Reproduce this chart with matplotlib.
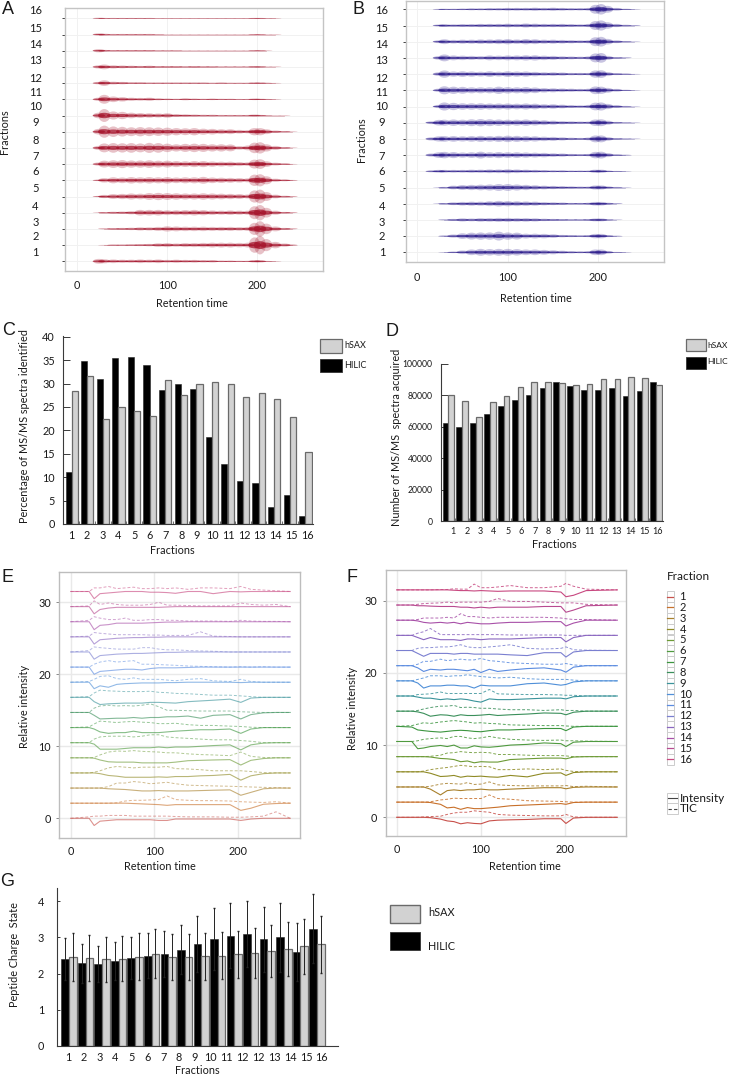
import numpy as np
import matplotlib
matplotlib.use('Agg')
import matplotlib.pyplot as plt
from matplotlib.lines import Line2D
from matplotlib.patches import Ellipse, Rectangle

plt.rcParams['font.family'] = ['Lato', 'DejaVu Sans']
plt.rcParams['font.size'] = 7.8

W, H = 729, 1074

fractions = list(range(1, 17))
fraction_labels = [str(f) for f in fractions]
# panel G really has 12 printed twice
g_labels = ['1', '2', '3', '4', '5', '6', '7', '8', '9', '10', '11', '12', '12', '13', '14', '15', '16']

# half widths of the traces in A and B, hundredths of a row, row 1 first
a_times = [24, 30, 40, 50, 60, 70, 80, 90, 100, 110, 120, 130, 140, 150, 160, 170, 180, 190, 197, 203, 210, 220, 230, 238]
a_widths = [
    [12, 10, 9, 8, 8, 9, 8, 9, 7, 8, 7, 7, 6, 6, 4, 4, 3, 3, 6, 6, 2, 1, 0, 0],
    [0, 1, 3, 3, 4, 5, 6, 9, 10, 8, 10, 10, 11, 12, 12, 12, 11, 12, 38, 46, 30, 16, 8, 3],
    [0, 2, 4, 5, 6, 8, 8, 10, 13, 12, 11, 11, 11, 10, 10, 10, 9, 10, 30, 38, 26, 12, 5, 2],
    [1, 3, 5, 6, 8, 14, 14, 14, 12, 12, 13, 14, 13, 11, 10, 11, 10, 10, 32, 38, 24, 10, 4, 2],
    [3, 8, 12, 13, 15, 14, 17, 18, 17, 16, 15, 15, 16, 15, 14, 13, 12, 10, 30, 34, 22, 9, 4, 2],
    [4, 11, 15, 14, 16, 15, 16, 15, 16, 14, 15, 15, 17, 14, 13, 12, 11, 10, 28, 30, 20, 8, 5, 2],
    [8, 17, 19, 20, 18, 18, 19, 17, 17, 15, 14, 15, 15, 13, 12, 12, 10, 9, 22, 24, 14, 7, 4, 1],
    [10, 22, 24, 23, 24, 22, 25, 24, 21, 18, 20, 21, 20, 18, 18, 17, 9, 12, 26, 28, 18, 10, 4, 1],
    [14, 30, 26, 24, 22, 23, 22, 21, 20, 18, 17, 18, 15, 14, 12, 12, 9, 8, 18, 18, 12, 6, 3, 1],
    [14, 32, 20, 18, 14, 12, 11, 10, 11, 7, 6, 5, 4, 4, 3, 3, 3, 3, 5, 3, 2, 1, 1, 0],
    [8, 22, 14, 11, 8, 7, 8, 5, 4, 3, 5, 4, 3, 4, 3, 3, 2, 2, 4, 3, 2, 1, 0, 0],
    [6, 14, 7, 6, 4, 4, 3, 3, 3, 3, 3, 3, 3, 2, 3, 2, 2, 2, 3, 3, 2, 1, 0, 0],
    [8, 12, 8, 7, 6, 5, 6, 4, 4, 4, 3, 4, 3, 3, 2, 2, 2, 2, 3, 3, 1, 1, 0, 0],
    [8, 4, 3, 3, 3, 3, 3, 2, 2, 2, 1, 1, 1, 1, 1, 1, 1, 1, 2, 2, 1, 0, 0, 0],
    [6, 4, 3, 3, 3, 3, 3, 2, 1, 1, 1, 1, 1, 1, 1, 1, 1, 1, 2, 2, 1, 1, 0, 0],
    [3, 2, 2, 2, 2, 2, 2, 1, 1, 1, 1, 1, 1, 1, 1, 1, 1, 1, 2, 2, 1, 1, 0, 0],
]
b_times = [16, 24, 30, 40, 50, 60, 70, 80, 90, 100, 110, 120, 130, 140, 150, 160, 170, 180, 190, 197, 203, 210, 220, 230, 240]
b_widths = [
    [0, 0, 1, 4, 9, 14, 17, 16, 17, 17, 16, 14, 14, 12, 10, 8, 6, 5, 6, 14, 14, 7, 2, 1, 0],
    [0, 0, 3, 8, 14, 17, 18, 18, 22, 18, 17, 12, 12, 11, 9, 6, 5, 4, 5, 11, 11, 5, 2, 0, 0],
    [0, 0, 2, 5, 8, 7, 9, 9, 10, 10, 9, 9, 8, 6, 5, 4, 3, 3, 4, 7, 7, 3, 1, 0, 0],
    [0, 1, 3, 7, 9, 10, 10, 12, 14, 13, 12, 11, 10, 8, 7, 6, 4, 4, 5, 9, 9, 5, 2, 0, 0],
    [0, 1, 3, 9, 12, 13, 14, 15, 17, 17, 15, 13, 11, 9, 8, 7, 6, 5, 5, 10, 10, 6, 3, 1, 0],
    [5, 7, 7, 7, 7, 8, 8, 9, 9, 10, 9, 8, 7, 6, 5, 5, 4, 4, 4, 8, 8, 4, 2, 1, 0],
    [8, 14, 16, 15, 13, 14, 17, 14, 15, 14, 14, 13, 12, 11, 9, 8, 6, 5, 6, 16, 17, 10, 4, 2, 0],
    [8, 13, 14, 14, 13, 14, 15, 14, 15, 16, 15, 14, 13, 11, 10, 8, 6, 5, 7, 17, 17, 9, 4, 2, 1],
    [7, 14, 15, 16, 15, 17, 18, 17, 16, 15, 15, 16, 14, 12, 10, 8, 7, 6, 6, 16, 17, 10, 4, 2, 1],
    [0, 8, 20, 18, 16, 16, 16, 15, 15, 15, 14, 15, 14, 11, 11, 9, 7, 6, 8, 19, 20, 13, 7, 3, 1],
    [0, 8, 20, 18, 17, 15, 15, 15, 18, 16, 15, 16, 14, 11, 10, 9, 8, 7, 8, 19, 18, 12, 7, 3, 1],
    [0, 9, 18, 13, 14, 13, 12, 14, 12, 14, 13, 13, 11, 9, 9, 8, 6, 6, 6, 18, 19, 10, 5, 3, 1],
    [0, 9, 17, 12, 11, 10, 9, 12, 11, 12, 12, 13, 13, 11, 10, 8, 7, 6, 8, 22, 24, 10, 4, 2, 0],
    [0, 7, 12, 9, 10, 10, 11, 11, 12, 13, 11, 13, 12, 10, 10, 9, 8, 7, 8, 22, 24, 14, 7, 3, 1],
    [0, 5, 7, 6, 7, 7, 8, 8, 8, 9, 8, 10, 9, 8, 8, 8, 7, 6, 8, 22, 25, 16, 8, 4, 2],
    [0, 2, 3, 3, 4, 5, 5, 6, 6, 7, 7, 7, 8, 7, 8, 7, 6, 6, 7, 22, 26, 17, 7, 3, 1],
]

c_hilic = [11.1, 34.8, 30.9, 35.4, 35.7, 33.9, 28.7, 29.8, 28.8, 18.5, 12.9, 9.1, 8.8, 3.7, 6.3, 1.7]
c_hsax = [28.3, 31.7, 22.5, 25.0, 24.2, 23.0, 30.8, 27.6, 30.0, 30.4, 29.9, 27.2, 27.9, 26.7, 22.9, 15.3]

d_hilic = [62500, 60000, 62200, 68000, 73000, 76800, 80000, 84500, 88500, 86000, 83500, 83500, 84500, 79500, 82500, 88500]
d_hsax = [80000, 76500, 66000, 76000, 79500, 85000, 88500, 88200, 87500, 86500, 87000, 90000, 90200, 91500, 91000, 86200]

# E and F: offsets from each fraction's baseline, fraction 1 first
e_times = [0, 22, 28, 35, 45, 55, 65, 75, 85, 95, 105, 115, 125, 140, 155, 170, 190, 203, 215, 230, 245, 262]
e_intensity = [
    [0, 0, -1, -.4, -.3, -.2, -.2, -.2, -.2, -.2, -.3, -.3, -.1, -.1, -.1, -.1, -.1, -.3, -.1, 0, 0, 0],
    [0, 0, 0, 0, 0, 0, 0, -.05, -.1, -.15, -.2, -.3, -.2, -.2, -.2, -.2, -.2, -1, -.7, -.15, -.05, 0],
    [0, 0, 0, 0, -.1, -.15, -.2, -.3, -.4, -.4, -.35, -.4, -.4, -.4, -.35, -.3, -.25, -1, -.6, -.1, 0, 0],
    [0, 0, 0, -.1, -.35, -.45, -.6, -.6, -.6, -.6, -.55, -.6, -.5, -.5, -.4, -.35, -.2, -1, -.4, -.1, 0, 0],
    [0, 0, -.05, -.3, -.55, -.6, -.6, -.6, -.7, -.7, -.7, -.7, -.6, -.4, -.35, -.3, -.25, -1, -.35, -.1, 0, 0],
    [0, 0, -.2, -.9, -.9, -.9, -.8, -.7, -.7, -.7, -.6, -.7, -.6, -.6, -.5, -.4, -.3, -1, -.3, -.05, 0, 0],
    [0, 0, -.2, -.6, -.8, -.7, -.7, -.5, -.7, -.7, -.7, -.6, -.5, -.4, -.3, -.3, -.2, -.8, -.2, 0, 0, 0],
    [0, 0, -.4, -.9, -.85, -.8, -.8, -.7, -.8, -.7, -.7, -.6, -.6, -.5, -.8, -.4, -.3, -.9, -.3, -.05, 0, 0],
    [0, 0, -.6, -1, -.9, -.85, -.8, -.8, -.8, -.7, -.7, -.75, -.8, -.6, -.5, -.4, -.25, -.7, -.1, 0, 0, 0],
    [0, 0, -.9, -.5, -.7, -.3, -.2, -.15, -.1, -.1, -.1, -.05, -.05, 0, 0, 0, 0, -.05, 0, 0, 0, 0],
    [0, 0, -1, -.6, -.5, -.4, -.3, -.3, -.4, -.2, -.1, -.1, -.1, -.05, 0, 0, 0, 0, 0, 0, 0, 0],
    [0, 0, -1, -.5, -.4, -.3, -.25, -.2, -.2, -.15, -.1, -.05, -.05, 0, 0, 0, 0, 0, 0, 0, 0, 0],
    [0, 0, -1, -.4, -.3, -.2, -.15, -.1, -.1, -.05, -.05, 0, 0, 0, 0, 0, 0, 0, 0, 0, 0, 0],
    [0, 0, -1.1, -.5, -.4, -.2, -.2, -.2, -.2, -.15, -.1, -.05, -.05, 0, 0, 0, 0, 0, 0, 0, 0, 0],
    [0, 0, -1, -.4, -.2, -.1, -.1, -.1, -.1, -.1, -.1, -.05, 0, 0, 0, 0, 0, 0, 0, 0, 0, 0],
    [0, 0, -1, -.3, -.2, -.1, 0, 0, 0, -.1, -.1, -.15, -.25, 0, 0, -.3, 0, -.05, 0, 0, 0, 0],
]
e_tic = [
    [0, .2, .3, .3, .4, .4, .4, .3, .3, .3, .3, .3, .25, .2, .2, .2, .15, .15, .2, .3, .9, 0],
    [0, 0, 0, 0, 0, .05, .3, .4, .4, .45, .5, 1, .5, .4, .35, .35, .3, .2, .15, .1, .2, 0],
    [0, 0, 0, 0, .2, .7, .7, .9, .8, .6, .7, .8, .6, .4, .35, .3, .25, .2, .15, .1, .05, 0],
    [0, 0, .1, .3, .7, .9, .8, .7, .8, .8, .8, .9, .6, .55, .45, .3, .3, .3, .2, .05, 0, 0],
    [0, 0, .05, .4, .8, .95, .9, 1, .9, .85, .8, .7, .7, .55, .45, .4, .3, .8, .2, .05, 0, 0],
    [0, 0, .5, .8, .9, .9, .9, .8, .9, 1.1, 1.1, .8, .7, .6, .5, .4, .4, .3, .2, 0, 0, 0],
    [0, .1, .5, .9, .8, .7, .8, .85, .75, .7, .55, .55, .6, .4, .3, .3, .2, .15, .05, 0, 0, 0],
    [0, 0, .6, .9, 1, .9, .95, .9, 1, 1.2, .8, .3, .3, .25, .2, .2, .2, .1, .05, 0, 0, 0],
    [0, .1, .6, 1, .9, .85, .8, .8, .8, .85, .7, .65, .55, .5, .4, .3, .3, .2, .1, 0, 0, 0],
    [0, .1, .4, .8, .9, .5, .4, .6, .4, .4, .4, .3, .2, .4, .5, .2, .1, .4, .1, 0, 0, 0],
    [0, 0, .4, .7, .9, .7, .8, .9, .4, .4, .35, .3, .25, .15, .1, .05, 0, .05, 0, .05, 0, 0],
    [0, .2, .7, .6, .5, .4, .4, .4, .6, .6, .4, .3, .3, .2, .15, .1, 0, 0, 0, 0, 0, 0],
    [0, .1, .6, .5, .4, .3, .3, .3, .3, .25, .25, .2, .2, .2, .7, .1, .05, 0, 0, 0, 0, 0],
    [0, .2, .7, .5, .3, .3, .5, .2, .2, .3, .3, .2, .2, .1, .1, .1, .05, .2, .1, .05, .05, 0],
    [0, .1, .8, .3, .5, .3, .2, .2, .2, .3, .6, .2, .2, .15, .1, .1, .1, .5, .3, .2, .3, 0],
    [0, 0, .5, .5, .7, .4, .5, .6, .4, .4, .5, .4, .5, .3, .5, .5, .4, .7, .3, .2, .1, 0],
]
f_times = [0, 18, 25, 32, 40, 52, 60, 68, 76, 84, 92, 100, 110, 120, 135, 155, 175, 195, 201, 210, 225, 262]
f_intensity = [
    [0, 0, 0, 0, -.05, -.25, -.5, -.6, -.9, -.75, -.85, -.9, -.5, -.4, -.35, -.3, -.2, -.2, -.85, -.1, 0, 0],
    [0, 0, 0, 0, -.05, -.3, -.8, -.7, -1, -.75, -.9, -.9, -.8, -.7, -.5, -.4, -.3, -.2, -.3, -.05, 0, 0],
    [0, 0, 0, 0, -.3, -1.1, -.5, -.4, -.5, -.4, -.4, -.3, -.4, -.4, -.3, -.2, -.1, -.1, -.25, -.05, 0, 0],
    [0, 0, 0, 0, -.2, -.65, -.6, -.5, -.75, -.6, -.65, -.6, -.7, -.75, -.5, -.7, -.2, -.15, -.5, -.1, 0, 0],
    [0, 0, 0, 0, -.05, -.25, -.3, -.4, -.7, -.6, -.85, -.7, -.75, -.75, -.4, -.3, -.2, -.2, -.3, -.05, 0, 0],
    [0, 0, -1, -.9, -.7, -.55, -.7, -.5, -.9, -.9, -.6, -.75, -.8, -.7, -.5, -.4, -.2, -.3, -.7, -.1, 0, 0],
    [0, -.1, -.5, -.6, -.7, -.8, -.7, -.6, -.55, -.6, -.7, -.75, -.6, -.5, -.5, -.4, -.3, -.3, -.6, -.1, 0, 0],
    [0, 0, -.1, -.3, -.7, -.5, -.55, -.7, -.5, -.6, -.6, -.55, -.45, -.6, -.5, -.4, -.25, -.3, -.5, -.15, 0, 0],
    [0, 0, -.15, -.3, -.3, -.5, -.4, -.5, -.4, -.5, -.7, -.85, -.4, -.5, -.5, -.4, -.3, -.3, -.4, -.1, 0, 0],
    [0, 0, -.3, -1, -.7, -.7, -.6, -.6, -.7, -.7, -1, -.6, -.7, -.7, -.7, -.4, -.3, -.6, -.5, -.15, 0, 0],
    [0, 0, -.3, -.8, -.5, -.6, -.5, -.5, -.6, -.7, -.5, -.95, -.5, -.8, -.6, -.4, -.3, -.6, -.9, -.2, 0, 0],
    [0, 0, -.4, -.8, -.4, -.4, -.4, -.5, -.4, -.4, -.5, -.5, -.5, -.5, -.6, -.7, -.3, -.3, -.9, -.2, 0, 0],
    [0, 0, -.3, -.6, -.3, -.6, -.6, -.6, -.7, -.5, -.5, -.6, -.5, -.5, -.5, -.4, -.3, -.3, -.9, -.3, 0, 0],
    [0, 0, -.1, -.3, -.4, -.3, -.4, -.3, -.5, -.3, -.4, -.5, -.5, -.4, -.3, -.3, -.2, -.2, -.8, -.4, 0, 0],
    [0, 0, -.1, -.1, -.15, -.2, -.2, -.2, -.3, -.3, -.4, -.3, -.4, -.3, -.3, -.3, -.2, -.2, -1, -.7, -.1, 0],
    [0, 0, 0, 0, 0, 0, 0, -.05, -.1, -.1, -.15, -.1, -.15, -.2, -.15, -.15, -.15, -.3, -.95, -.75, -.1, 0],
]
f_tic = [
    [0, 0, 0, .05, .1, .15, .4, .6, .7, .7, .9, .8, .7, .4, .3, .25, .2, .2, .4, .05, 0, 0],
    [0, 0, 0, 0, .05, .3, .4, .55, .5, .5, .5, .5, 1, .5, .4, .2, .15, .1, .05, 0, 0, 0],
    [0, 0, 0, 0, .1, .4, .5, .45, .4, .6, .35, .4, .7, .3, .2, .15, .15, .15, .2, .05, .1, 0],
    [0, 0, 0, .1, .3, .5, .6, .75, .9, .8, .7, .75, .7, .3, .3, .4, .3, .4, .2, .05, 0, 0],
    [0, 0, 0, 0, .05, .2, .5, .55, .7, .6, .55, .6, .55, .3, .3, .2, .15, .15, .1, 0, 0, 0],
    [0, 0, .1, .3, .4, .5, .4, .7, .7, .5, .4, .5, .7, .5, .3, .2, .15, .2, .1, .1, .05, 0],
    [0, .1, .3, .5, .4, .6, .7, .8, .7, .6, .45, .5, .4, .35, .2, .15, .1, .1, .05, 0, 0, 0],
    [0, 0, .1, .3, .5, .7, .7, .8, .5, .55, .5, .4, .4, .3, .2, .2, .1, .2, .1, .1, 0, 0],
    [0, 0, .2, .25, .3, .55, .35, .35, .35, .35, .35, .35, .9, .3, .25, .2, .2, .15, .1, .1, 0, 0],
    [0, 0, .2, .4, .7, .7, .6, .7, .7, .85, .7, .6, .5, .4, .5, .3, .2, .2, .2, .1, 0, 0],
    [0, 0, .2, .6, .6, .9, .7, .8, .9, .8, .8, 1, .7, .6, .4, .3, .2, .2, .3, .1, 0, 0],
    [0, 0, .3, .4, .4, .5, .5, .6, .8, .5, .4, .4, .5, .6, .8, .3, .2, .3, .5, .1, .05, 0],
    [0, 0, .3, .5, .95, .1, .1, .1, .1, .1, .1, .1, .1, .1, .05, .05, .05, .05, 0, 0, 0, 0],
    [0, 0, .1, .3, .3, .3, .4, .3, .9, .5, .5, .4, .3, .4, .4, .4, .4, .3, .2, .1, .1, 0],
    [0, 0, .1, .2, .25, .3, .4, .3, .4, .4, .4, .4, .5, .9, .5, .5, .4, .3, .3, .3, .1, 0],
    [0, 0, 0, 0, 0, .05, .05, .15, .1, .1, .8, .3, .3, .4, .6, .3, .3, .5, .9, .5, .1, 0],
]
fraction_colors = ['#c8504a', '#c8702a', '#a8802c', '#8f8a25', '#6c9a35', '#4f9a3f', '#3c953f', '#3a8f5a',
                   '#3a939a', '#4f8fd8', '#5a8be0', '#7a7fd0', '#8a66c0', '#a850a8', '#b84a90', '#c84880']

g_hilic = [2.4, 2.28, 2.27, 2.34, 2.44, 2.5, 2.54, 2.66, 2.82, 2.95, 3.05, 3.1, 2.95, 3.0, 2.6, 3.24]
g_hsax = [2.46, 2.44, 2.39, 2.41, 2.47, 2.55, 2.46, 2.45, 2.48, 2.5, 2.53, 2.57, 2.62, 2.68, 2.75, 2.81]
g_hilic_err = [.58, .53, .5, .53, .58, .62, .63, .68, .78, .86, .9, .91, .9, .95, .8, .96]
g_hsax_err = [.66, .64, .61, .62, .65, .68, .63, .64, .65, .65, .66, .68, .72, .74, .75, .79]

GREY = '#d2d2d2'
EDGE = '#6a6a6a'
FRAME = '#c4c4c4'
TXT = '#1a1a1a'

fig = plt.figure(figsize=(W / 100, H / 100), dpi=100)


def axes_px(left, top, right, bottom):
    return fig.add_axes([left / W, 1 - bottom / H, (right - left) / W, (bottom - top) / H])


def lim(lo_px, hi_px, zero_px, px_per_unit):
    return (lo_px - zero_px) / px_per_unit, (hi_px - zero_px) / px_per_unit


def text_px(x, y, s, **kw):
    kw.setdefault('ha', 'center')
    kw.setdefault('va', 'center')
    kw.setdefault('color', TXT)
    fig.text(x / W, 1 - y / H, s, **kw)


def rect_px(left, top, right, bottom, **kw):
    fig.add_artist(Rectangle((left / W, 1 - bottom / H), (right - left) / W, (bottom - top) / H,
                             transform=fig.transFigure, **kw))


def line_px(x0, x1, y, **kw):
    fig.add_artist(Line2D([x0 / W, x1 / W], [1 - y / H, 1 - y / H], transform=fig.transFigure, **kw))


def frame(ax, color=FRAME):
    for s in ax.spines.values():
        s.set_color(color)
        s.set_linewidth(1)


def trace_panel(box, x0, xscale, row1_y, times, widths, color):
    ax = axes_px(*box)
    left, top, right, bottom = box
    ax.set_xlim(lim(left, right, x0, xscale))
    ax.set_ylim((row1_y - bottom) / 16.2 + 1, (row1_y - top) / 16.2 + 1)
    ax.grid(True, color='#f1f1f1', lw=0.7)
    ax.set_axisbelow(True)
    for i, row in enumerate(widths):
        r = fractions[i]
        # one soft lobe per reading, a darker core inside it
        for t, v in zip(times, row):
            if v == 0:
                continue
            h = 2.5 * v / 100
            ax.add_patch(Ellipse((t, r), 13, h, fc=color, ec='none', alpha=0.26))
            ax.add_patch(Ellipse((t, r), 14, h * 0.42, fc=color, ec='none', alpha=0.72))
        seen = [t for t, v in zip(times, row) if v > 0]
        ax.plot([seen[0], seen[-1]], [r, r], color=color, lw=0.5, alpha=0.35)
    ax.set_xticks([0, 100, 200])
    ax.set_yticks(fractions)
    ax.set_yticklabels([])
    ax.tick_params(axis='y', length=2.5, width=0.7, color='#444444')
    ax.tick_params(axis='x', length=0, pad=7, labelcolor=TXT)
    frame(ax)
    return ax


def bar_panel(box, zero_y, y_scale, group1_x, step, bar_px, hilic, hsax):
    ax = axes_px(*box)
    left, top, right, bottom = box
    ax.set_xlim(lim(left, right, group1_x - step, step))
    ax.set_ylim(lim(zero_y - bottom, zero_y - top, 0, y_scale))
    w = bar_px / step
    x = np.array(fractions)
    ax.bar(x - w / 2, hilic, w, color='black', edgecolor='#222222', lw=0.4, zorder=2)
    ax.bar(x + w / 2, hsax, w, color=GREY, edgecolor=EDGE, lw=0.9, zorder=2)
    for s in ('top', 'right'):
        ax.spines[s].set_visible(False)
    for s in ('left', 'bottom'):
        ax.spines[s].set_color('#3a3a3a')
        ax.spines[s].set_linewidth(0.8)
    ax.tick_params(axis='y', direction='in', length=5, width=0.7, color='#3a3a3a', pad=6, labelcolor=TXT)
    ax.tick_params(axis='x', length=0, labelcolor=TXT)
    return ax


def profile_panel(box, x0, xscale, y0, yscale, times, intensity, tic, alpha):
    ax = axes_px(*box)
    left, top, right, bottom = box
    ax.set_xlim(lim(left, right, x0, xscale))
    ax.set_ylim(lim(y0 - bottom, y0 - top, 0, yscale))
    ax.grid(True, color='#e9e9e9', lw=1)
    ax.set_axisbelow(True)
    for i in range(16):
        base = i * 2.1
        ax.plot(times, base + np.array(intensity[i]), color=fraction_colors[i], lw=0.8, alpha=alpha)
        ax.plot(times, base + np.array(tic[i]), color=fraction_colors[i], lw=0.7, alpha=alpha * 0.85,
                ls=(0, (3, 2)))
    ax.set_xticks([0, 100, 200])
    ax.set_yticks([0, 10, 20, 30])
    ax.tick_params(length=2.5, width=0.6, color='#777777', labelcolor=TXT, pad=3.5)
    ax.tick_params(axis='x', length=0, pad=6)
    frame(ax, '#bdbdbd')
    return ax


# A and B
trace_panel((65.3, 8.3, 322.7, 270.7), 77.3, 0.9, 261.3, a_times, a_widths, '#a5122a')
trace_panel((405.7, 0.5, 664.5, 262), 417.3, 0.905, 252.3, b_times, b_widths, '#2c1c8c')
label_ys = [253, 237, 222, 207, 189, 172, 156, 140, 122, 107, 93, 78, 60, 44, 28, 10]
for f, y in zip(fraction_labels, label_ys):
    text_px(35.5, y, f, fontsize=8)
    text_px(382, y, f, fontsize=8)
text_px(4.5, 132, 'Fractions', rotation=90)
text_px(361, 140, 'Fractions', rotation=90)
text_px(192, 303, 'Retention time')
text_px(536, 298, 'Retention time')

# C
ax = bar_panel((63.3, 336, 313, 524), 524, 187.3 / 40, 71.7, 15.58, 6.2, c_hilic, c_hsax)
ax.set_yticks(range(0, 41, 5))
ax.set_xticks(np.linspace(0.97, 16.1, 16))
ax.set_xticklabels(fraction_labels)
ax.tick_params(axis='x', pad=4)
ax.set_xticks(np.array(fractions[:-1]) + 0.5, minor=True)
ax.tick_params(axis='x', which='minor', direction='in', length=2, width=0.6, color='#555555')
text_px(25, 426, 'Percentage of MS/MS spectra identified', rotation=90)
text_px(172, 550, 'Fractions')
rect_px(319.5, 339, 341.5, 352.5, fc=GREY, ec=EDGE, lw=0.9)
rect_px(319.5, 359, 341.5, 372, fc='black', ec='#333333', lw=0.6)
text_px(344, 346, 'hSAX', ha='left', fontsize=6.5)
text_px(344, 366, 'HILIC', ha='left', fontsize=6.5)

# D
ax = bar_panel((441, 363.7, 663, 521.3), 521.3, 157.6 / 100000, 448.3, 13.85, 5.67, d_hilic, d_hsax)
ax.set_yticks(range(0, 100001, 20000))
ax.set_xticks(np.linspace(1.35, 16.12, 16))
ax.set_xticklabels(fraction_labels, fontsize=6.5)
ax.tick_params(axis='y', labelsize=6.2, pad=6)
ax.tick_params(axis='x', pad=4)
ax.set_xticks(np.array(fractions[:-1]) + 0.5, minor=True)
ax.tick_params(axis='x', which='minor', direction='in', length=2, width=0.6, color='#555555')
text_px(397, 437.7, 'Number of MS/MS  spectra acquired', rotation=90)
text_px(554, 544, 'Fractions')
rect_px(685.5, 339.5, 705.5, 351.5, fc=GREY, ec=EDGE, lw=0.9)
rect_px(685.5, 356.5, 705.5, 368.5, fc='black', ec='#333333', lw=0.6)
text_px(707.5, 345.5, 'hSAX', ha='left', fontsize=6)
text_px(707.5, 362, 'HILIC', ha='left', fontsize=6)

# E and F
profile_panel((59.3, 572.3, 300, 838), 70.7, 0.838, 818.3, 7.2, e_times, e_intensity, e_tic, 0.62)
profile_panel((385.7, 570.3, 626, 836), 396.7, 0.842, 817.3, 7.22, f_times, f_intensity, f_tic, 1)
text_px(24, 706, 'Relative intensity', rotation=90)
text_px(353, 708, 'Relative intensity', rotation=90)
text_px(160, 866, 'Retention time')
text_px(525, 866, 'Retention time')

# legend of F
text_px(667, 576, 'Fraction', ha='left', fontsize=8.5)
for i, f in enumerate(fraction_labels):
    y = 596.5 + i * 10.85
    rect_px(666.5, y - 5.4, 673.5, y + 5.4, fc='white', ec='#cccccc', lw=0.7)
    line_px(667, 673, y, color=fraction_colors[i], lw=0.9)
    text_px(679.5, y, f, ha='left', fontsize=8)
for y, name, style in [(798, 'Intensity', '-'), (808.5, 'TIC', (0, (3, 2)))]:
    rect_px(666.5, y - 5.3, 678, y + 5.3, fc='white', ec='#cccccc', lw=0.7)
    line_px(667.5, 677, y, color='#444444', lw=0.8, ls=style)
    text_px(679.5, y, name, ha='left', fontsize=8.5)

# G
ax = bar_panel((56.7, 887.7, 337.7, 1046), 1046, 36.2, 69, 16.53, 7.67, g_hilic, g_hsax)
w = 7.67 / 16.53
x = np.array(fractions)
ax.errorbar(x - w / 2, g_hilic, yerr=g_hilic_err, fmt='none', ecolor='#222222', elinewidth=0.7, capsize=1, zorder=3)
ax.errorbar(x + w / 2, g_hsax, yerr=g_hsax_err, fmt='none', ecolor='#222222', elinewidth=0.7, capsize=1, zorder=3)
ax.set_yticks(range(0, 5))
ax.set_xticks(np.linspace(0.93, 16.3, 17))
ax.set_xticklabels(g_labels)
ax.tick_params(axis='x', pad=4)
ax.tick_params(axis='y', length=2.5, pad=9)
text_px(15, 955, 'Peptide Charge  State', rotation=90)
text_px(197, 1070, 'Fractions')
rect_px(389.5, 905, 419.5, 923, fc=GREY, ec=EDGE, lw=1)
rect_px(389.5, 932, 419.5, 950, fc='black', ec='#333333', lw=0.6)
text_px(428, 912, 'hSAX', ha='left')
text_px(428, 946, 'HILIC', ha='left')

# panel letters
for letter, x, y in [('A', 8, 10), ('B', 358, 10), ('C', 9, 330), ('D', 392, 332),
                     ('E', 8, 577), ('F', 352, 577), ('G', 7, 882)]:
    text_px(x, y, letter, fontsize=13, family=['Liberation Sans', 'DejaVu Sans'])

fig.savefig('out.png', dpi=100)
